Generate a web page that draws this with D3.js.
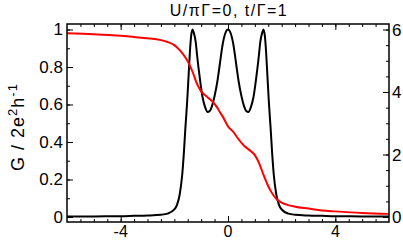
<!DOCTYPE html>
<html lang="en">
    <head>
        <meta charset="utf-8">
        <title>Conductance and occupation</title>
        <script type="text/javascript" src="https://cdn.jsdelivr.net/npm/d3@7"></script>
        <style type="text/css">
            body { margin: 0; background: #fff; }
            text { font-family: "Liberation Sans", Arial, sans-serif; fill: #000; }
        </style>
    </head>
    <body>
        <script type="text/javascript">

            //Width and height
            var w = 403;
            var h = 240;

            // conductance G / 2e^2h^-1 (left axis)
            var gX = [-6, -5, -4, -3.5, -3, -2.5, -2.25, -2, -1.9, -1.8, -1.71, -1.65, -1.59, -1.52, -1.47, -1.42, -1.37, -1.32,
                      -1.27, -1.2, -1.15, -1.05, -0.95, -0.85, -0.76, -0.68, -0.6, -0.5, -0.4, -0.3, -0.2, -0.1, 0,
                      0.1, 0.2, 0.3, 0.4, 0.5, 0.6, 0.68, 0.76, 0.85, 0.95, 1.05, 1.15, 1.2, 1.27, 1.32,
                      1.37, 1.42, 1.47, 1.52, 1.59, 1.65, 1.71, 1.8, 1.9, 2, 2.25, 2.5, 3, 3.5, 4, 5, 6];
            var gY = [0.002, 0.003, 0.004, 0.006, 0.008, 0.012, 0.018, 0.04, 0.065, 0.12, 0.22, 0.33, 0.47, 0.62, 0.75, 0.88, 0.97, 1.0,
                      0.98, 0.93, 0.86, 0.74, 0.64, 0.585, 0.56, 0.565, 0.59, 0.645, 0.72, 0.82, 0.92, 0.98, 1.0,
                      0.98, 0.92, 0.82, 0.72, 0.645, 0.59, 0.565, 0.56, 0.585, 0.64, 0.74, 0.86, 0.93, 0.98, 1.0,
                      0.97, 0.88, 0.75, 0.62, 0.47, 0.33, 0.22, 0.12, 0.065, 0.04, 0.018, 0.012, 0.008, 0.006, 0.004, 0.003, 0.002];

            // occupation (right axis, 0..6)
            var nX = [-6, -5, -4, -3.5, -3, -2.5, -2.25, -2, -1.8, -1.6, -1.45, -1.3, -1.15, -1, -0.8, -0.6, -0.4, -0.3, -0.2, 0,
                      0.2, 0.3, 0.4, 0.6, 0.8, 1, 1.15, 1.3, 1.45, 1.6, 1.8, 2, 2.25, 2.5, 3, 3.5, 4, 5, 6];
            var nY = [5.88, 5.85, 5.8, 5.76, 5.72, 5.66, 5.6, 5.5, 5.34, 5.12, 4.9, 4.6, 4.25, 4.02, 3.86, 3.71, 3.5, 3.35, 3.22, 2.9,
                      2.72, 2.6, 2.48, 2.28, 2.14, 1.98, 1.74, 1.4, 1.08, 0.82, 0.58, 0.46, 0.38, 0.33, 0.27, 0.21, 0.18, 0.13, 0.1];

            var xLabels = [-4, 0, 4];
            var leftLabels = [0, 0.2, 0.4, 0.6, 0.8, 1];
            var rightLabels = [0, 2, 4, 6];

            var pLeft = 67, pRight = 389, pTop = 24, pBottom = 222;

            var x = d3.scaleLinear().domain([-6, 6]).range([pLeft, pRight]);
            var y = d3.scaleLinear().domain([-0.0267, 1.0293]).range([pBottom, pTop]);
            var y2 = d3.scaleLinear().domain([-0.16, 6.176]).range([pBottom, pTop]);

            var svg = d3.select("body")
                        .append("svg")
                        .attr("width", w)
                        .attr("height", h);

            //Curves
            var line = d3.line().curve(d3.curveMonotoneX);

            svg.append("path")
               .attr("d", line(gX.map(function(d, i) { return [x(d), y(gY[i])]; })))
               .attr("fill", "none")
               .attr("stroke", "#000")
               .attr("stroke-width", 2);

            svg.append("path")
               .attr("d", line(nX.map(function(d, i) { return [x(d), y2(nY[i])]; })))
               .attr("fill", "none")
               .attr("stroke", "#f00")
               .attr("stroke-width", 2);

            //Axes, ticks inward
            function fmt(d) { return d; }

            var xMinor = d3.range(-5.5, 6, 0.5);
            svg.append("g").attr("transform", "translate(0," + pBottom + ")")
               .call(d3.axisTop(x).tickValues(xMinor).tickSize(3).tickFormat(""));
            svg.append("g").attr("transform", "translate(0," + pBottom + ")")
               .call(d3.axisTop(x).tickValues(xLabels).tickSize(6).tickFormat(""));
            svg.append("g").attr("transform", "translate(0," + pTop + ")")
               .call(d3.axisBottom(x).tickValues(xMinor).tickSize(3).tickFormat(""));
            svg.append("g").attr("transform", "translate(0," + pTop + ")")
               .call(d3.axisBottom(x).tickValues(xLabels).tickSize(6).tickFormat(""));

            svg.append("g").attr("transform", "translate(" + pLeft + ",0)")
               .call(d3.axisRight(y).tickValues(d3.range(0, 11).map(function(i) { return i / 10; })).tickSize(3).tickFormat(""));
            svg.append("g").attr("transform", "translate(" + pLeft + ",0)")
               .call(d3.axisRight(y).tickValues(leftLabels).tickSize(6).tickFormat(""));

            svg.append("g").attr("transform", "translate(" + pRight + ",0)")
               .call(d3.axisLeft(y2).tickValues(d3.range(0, 13).map(function(i) { return i / 2; })).tickSize(3).tickFormat(""));
            svg.append("g").attr("transform", "translate(" + pRight + ",0)")
               .call(d3.axisLeft(y2).tickValues(rightLabels).tickSize(6).tickFormat(""));

            svg.selectAll(".domain").remove();
            svg.selectAll(".tick line").attr("stroke", "#000").attr("stroke-width", 1);

            //Frame
            svg.append("rect")
               .attr("x", pLeft).attr("y", pTop)
               .attr("width", pRight - pLeft).attr("height", pBottom - pTop)
               .attr("fill", "none").attr("stroke", "#000").attr("stroke-width", 1.5);

            //Tick labels
            svg.selectAll(".xl").data(xLabels).enter().append("text")
               .attr("x", function(d) { return x(d); })
               .attr("y", 237)
               .attr("text-anchor", "middle")
               .attr("font-size", "16px")
               .text(function(d) { return d < 0 ? "-" + Math.abs(d) : d; });

            svg.selectAll(".yl").data(leftLabels).enter().append("text")
               .attr("x", 63)
               .attr("y", function(d) { return y(d) + 6; })
               .attr("text-anchor", "end")
               .attr("font-size", "17px")
               .text(fmt);

            svg.selectAll(".yr").data(rightLabels).enter().append("text")
               .attr("x", 392)
               .attr("y", function(d) { return y2(d) + 6; })
               .attr("font-size", "17px")
               .text(fmt);

            //Title
            svg.append("text")
               .attr("x", 229)
               .attr("y", 15.5)
               .attr("text-anchor", "middle")
               .attr("font-size", "16px")
               .attr("letter-spacing", "1.5px")
               .text("U/\u03c0\u0393=0, t/\u0393=1");

            //Y label
            var yl = svg.append("text")
               .attr("transform", "translate(23.5,127) rotate(-90)")
               .attr("text-anchor", "middle")
               .attr("font-size", "18px")
               .attr("letter-spacing", "1px");
            yl.append("tspan").text("G / 2e");
            yl.append("tspan").attr("dy", -7).attr("font-size", "13px").text("2");
            yl.append("tspan").attr("dy", 7).text("h");
            yl.append("tspan").attr("dy", -7).attr("font-size", "13px").text("-1");

        </script>
    </body>
</html>
